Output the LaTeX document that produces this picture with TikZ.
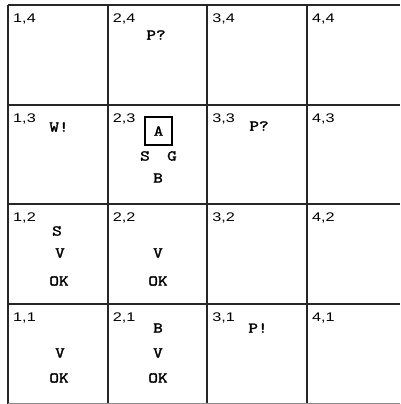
\documentclass[tikz,border=0pt]{standalone}
\usepackage{fontspec}
\newfontfamily\coordfont[FakeStretch=1.3]{Liberation Sans}
\newfontfamily\perceptfont[FakeStretch=1.25, FakeBold=2]{Latin Modern Mono}
\tikzset{
  gridline/.style={line width=1.6pt, black!85},
  coordlabel/.style={anchor=base west, inner sep=0pt, font=\coordfont\fontsize{12.5}{12.5}\selectfont},
  percept/.style={inner sep=0pt, font=\perceptfont\fontsize{15}{15}\selectfont},
  agentbox/.style={draw, line width=1.3pt, minimum width=27pt, minimum height=28pt, inner sep=0pt}
}
\begin{document}
\begin{tikzpicture}[x=1pt,y=-1pt]
    \useasboundingbox (0,0) rectangle (400,404);

    % Grid of rooms
    \foreach \gx in {8,108,207,307} {
        \draw[gridline] (\gx,5) -- (\gx,404.5);
    }
    \foreach \gy in {5,105,204,304} {
        \draw[gridline] (8,\gy) -- (400,\gy);
    }
    \draw[line width=1pt, black!45] (8,403.2) -- (400,403.2);

    % Room coordinates
    \foreach \i in {1,...,4} {
        \foreach \j in {1,...,4} {
            \pgfmathsetmacro\lx{13+(\i-1)*99.6}
            \pgfmathsetmacro\ly{23+(4-\j)*99.4}
            \node[coordlabel] (lab\i\j) at (\lx,\ly) {\i,\j};
        }
    }

    % Row 4
    \node[percept] (pq24) at (156,35) {P?};

    % Row 3
    \node[percept] (w13) at (59,127) {W!};
    \node[percept, agentbox] (agent) at (158.5,131) {A};
    \node[percept] (s23) at (145,156) {S};
    \node[percept] (g23) at (172,156) {G};
    \node[percept] (b23) at (158,178) {B};
    \node[percept] (pq33) at (259,126) {P?};

    % Row 2
    \node[percept] (s12) at (57,231) {S};
    \node[percept] (v12) at (60,253) {V};
    \node[percept] (ok12) at (59,281) {OK};
    \node[percept] (v22) at (158,253) {V};
    \node[percept] (ok22) at (158,281) {OK};

    % Row 1
    \node[percept] (v11) at (60,353) {V};
    \node[percept] (ok11) at (59,378) {OK};
    \node[percept] (b21) at (158,328) {B};
    \node[percept] (v21) at (158,353) {V};
    \node[percept] (ok21) at (158,378) {OK};
    \node[percept] (p31) at (258,328) {P!};

\end{tikzpicture}
\end{document}
